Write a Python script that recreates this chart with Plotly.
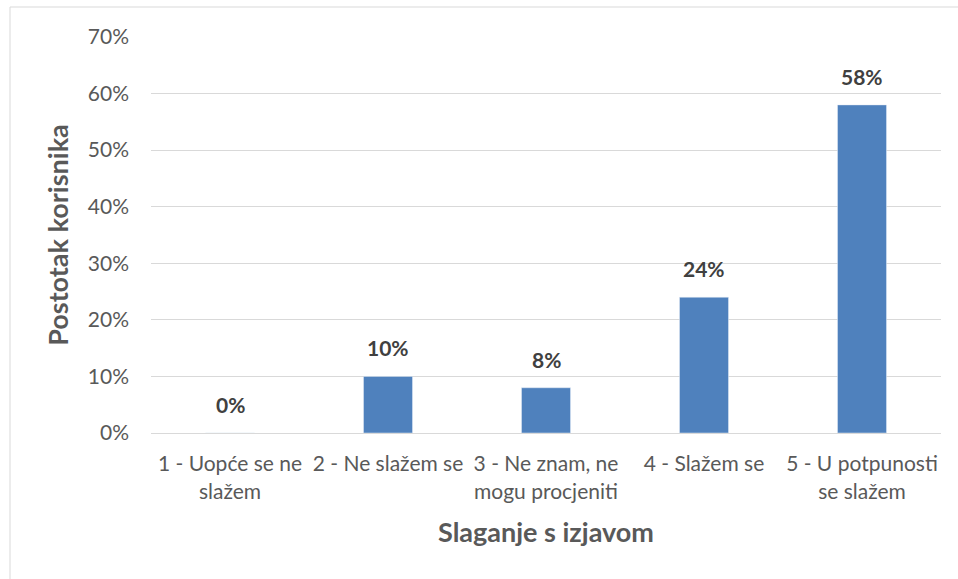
import plotly.graph_objects as go

# Survey responses: share of users per agreement level
categories = [
    "1 - Uopće se ne<br>slažem",
    "2 - Ne slažem se",
    "3 - Ne znam, ne<br>mogu procjeniti",
    "4 - Slažem se",
    "5 - U potpunosti<br>se slažem",
]
shares = [0.00, 0.10, 0.08, 0.24, 0.58]

FONT = "Lato"
GREY = "#595959"
W, H = 958, 579
L, R, T, B = 151, 17, 37, 146
pw, ph = W - L - R, H - T - B

fig = go.Figure(
    go.Bar(
        x=categories,
        y=shares,
        marker=dict(color="#4F81BD"),
        width=0.31,
        hoverinfo="x+y",
    )
)

# Value labels sitting above each bar
for cat, v in zip(categories, shares):
    fig.add_annotation(
        x=cat,
        y=v,
        text=f"{v:.0%}",
        showarrow=False,
        yanchor="bottom",
        yshift=14,
        font=dict(family=FONT, size=21, color="#404040", weight="bold"),
    )

fig.update_layout(
    width=W,
    height=H,
    autosize=False,
    margin=dict(l=L, r=R, t=T, b=B),
    paper_bgcolor="white",
    plot_bgcolor="white",
    showlegend=False,
    font=dict(family=FONT, size=21, color=GREY),
    xaxis=dict(
        showgrid=False,
        showline=True,
        linecolor="#d9d9d9",
        linewidth=1,
        ticks="",
        ticklabelstandoff=12,
        tickfont=dict(family=FONT, size=21, color=GREY),
        title=dict(
            text="Slaganje s izjavom",
            font=dict(family=FONT, size=27, color=GREY, weight="bold"),
            standoff=21,
        ),
    ),
    yaxis=dict(
        range=[0, 0.7],
        dtick=0.1,
        tickformat=".0%",
        showgrid=True,
        gridcolor="#d9d9d9",
        gridwidth=1,
        zeroline=False,
        ticks="",
        ticklabelstandoff=21,
        tickfont=dict(family=FONT, size=21, color=GREY),
        title=dict(
            text="Postotak korisnika",
            font=dict(family=FONT, size=27, color=GREY, weight="bold"),
            standoff=11,
        ),
    ),
)

# Outer chart frame
fig.add_shape(
    type="rect",
    xref="paper",
    yref="paper",
    x0=(10 - L) / pw,
    x1=(W + 5 - L) / pw,
    y0=(T + ph - (H + 5)) / ph,
    y1=(T + ph - 7) / ph,
    line=dict(color="#d9d9d9", width=1),
    fillcolor="rgba(0,0,0,0)",
    layer="below",
)

fig.write_html("out.html")
